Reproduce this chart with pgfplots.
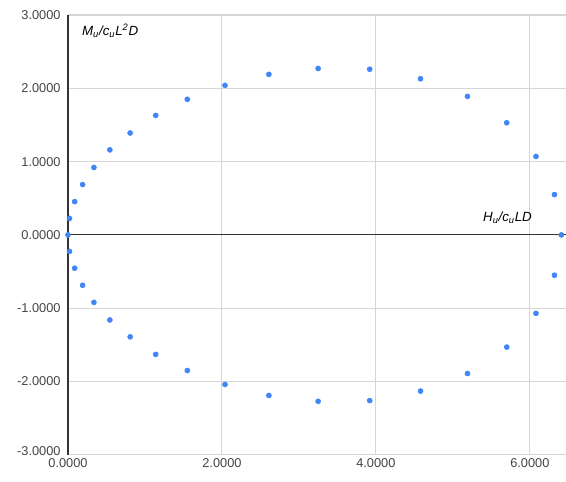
\documentclass[border=0pt]{standalone}
\usepackage{pgfplots}
\pgfplotsset{compat=1.18}
\usepackage{fontspec}
\setmainfont{Liberation Sans}
\usetikzlibrary{calc}
\definecolor{dotblue}{HTML}{4285F4}
\definecolor{ticktxt}{HTML}{444444}
\definecolor{gridc}{HTML}{D6D6D6}
\definecolor{axc}{HTML}{333333}

\begin{document}
\begin{tikzpicture}
\begin{axis}[
    name=ax,
    x=57.75pt, y=55pt,
    xmin=0, xmax=6.47, ymin=-3, ymax=3,
    axis line style={draw=none},
    xtick={0,2,4,6}, ytick={-3,-2,...,3},
    yticklabels={\raisebox{5pt}{-3.0000},-2.0000,-1.0000,0.0000,1.0000,2.0000,3.0000},
    major tick length=0pt,
    grid=major, grid style={gridc, line width=0.8pt},
    tick label style={font=\fontsize{9.6}{11}\selectfont, text=ticktxt},
    /pgf/number format/assume math mode=true,
    /pgf/number format/.cd, fixed, fixed zerofill, precision=4,
    /tikz/.cd,
    xticklabel style={yshift=1pt},
    yticklabel style={xshift=-2pt},
    clip=false,
]
\draw[axc, line width=0.8pt] (axis cs:0,-3) -- (axis cs:0,3);
\draw[axc, line width=0.8pt] (axis cs:0,0) -- (axis cs:6.47,0);
\addplot[only marks, mark=*, mark size=1.9pt, color=dotblue] coordinates {
    (0,0)
    (0.02,0.225) (0.087,0.454) (0.19,0.687) (0.337,0.92) (0.544,1.16)
    (0.808,1.39) (1.14,1.63) (1.55,1.85) (2.04,2.04) (2.61,2.19)
    (3.25,2.27) (3.92,2.26) (4.58,2.13) (5.19,1.89) (5.70,1.53)
    (6.08,1.07) (6.32,0.55) (6.41,0)
    (0.02,-0.225) (0.087,-0.454) (0.19,-0.687) (0.337,-0.92) (0.544,-1.16)
    (0.808,-1.39) (1.14,-1.63) (1.55,-1.85) (2.04,-2.04) (2.61,-2.19)
    (3.25,-2.27) (3.92,-2.26) (4.58,-2.13) (5.19,-1.89) (5.70,-1.53)
    (6.08,-1.07) (6.32,-0.55)
};
\node[anchor=west, font=\fontsize{10}{12}\selectfont\itshape, inner sep=0pt]
    at (axis cs:0.18,2.78) {M\textsubscript{u}/c\textsubscript{u}L\textsuperscript{2}D};
\node[anchor=west, font=\fontsize{10}{12}\selectfont\itshape, inner sep=0pt]
    at (axis cs:5.39,0.23) {H\textsubscript{u}/c\textsubscript{u}LD};
\end{axis}
\pgfresetboundingbox
\path[use as bounding box] ($(ax.south west)+(-51pt,-20.25pt)$) rectangle ($(ax.north east)+(0,11.25pt)$);
\end{tikzpicture}
\end{document}
